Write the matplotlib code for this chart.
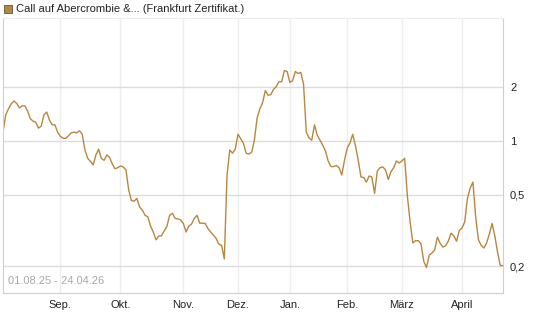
import numpy as np
import pandas as pd
import matplotlib
matplotlib.use("Agg")
import matplotlib.pyplot as plt
from matplotlib.ticker import FixedLocator, NullLocator

# Handelstage Frankfurt 01.08.25 - 24.04.26
feiertage = ["2025-12-24", "2025-12-25", "2025-12-26", "2025-12-31",
             "2026-01-01", "2026-04-03", "2026-04-06"]
tage = pd.bdate_range("2025-08-01", "2026-04-24")
tage = tage[~tage.isin(pd.to_datetime(feiertage))]

kurs = [1.12, 1.40, 1.51, 1.61, 1.67, 1.62, 1.53, 1.57, 1.57, 1.47,
        1.33, 1.29, 1.27, 1.18, 1.21, 1.40, 1.45, 1.31, 1.23, 1.23,
        1.12, 1.06, 1.035, 1.035, 1.07, 1.11, 1.12, 1.11, 1.14, 1.09,
        0.89, 0.80, 0.77, 0.735, 0.836, 0.90, 0.80, 0.78, 0.836, 0.81,
        0.745, 0.70, 0.71, 0.725, 0.716, 0.69, 0.533, 0.465, 0.462, 0.478,
        0.428, 0.412, 0.385, 0.378, 0.335, 0.311, 0.281, 0.295, 0.296, 0.315,
        0.335, 0.385, 0.395, 0.37, 0.368, 0.363, 0.347, 0.311, 0.335, 0.344,
        0.37, 0.385, 0.348, 0.348, 0.347, 0.325, 0.311, 0.299, 0.286, 0.266,
        0.262, 0.22, 0.646, 0.89, 0.855, 0.90, 1.09, 1.03, 0.97, 0.855,
        0.845, 0.865, 1.01, 1.34, 1.51, 1.63, 1.91, 1.80, 1.81, 1.94,
        2.01, 2.14, 2.14, 2.47, 2.44, 2.12, 2.17, 2.44, 2.38, 2.41,
        2.07, 1.12, 1.04, 1.01, 1.23, 1.08, 1.01, 0.95, 0.88, 0.774,
        0.72, 0.72, 0.73, 0.71, 0.646, 0.784, 0.914, 0.975, 1.09, 0.94,
        0.784, 0.63, 0.626, 0.59, 0.638, 0.63, 0.51, 0.68, 0.71, 0.716,
        0.69, 0.61, 0.674, 0.71, 0.774, 0.754, 0.774, 0.80, 0.494, 0.354,
        0.27, 0.278, 0.278, 0.267, 0.213, 0.197, 0.231, 0.237, 0.247, 0.291,
        0.269, 0.256, 0.261, 0.277, 0.306, 0.296, 0.276, 0.317, 0.327, 0.354,
        0.48, 0.547, 0.59, 0.377, 0.281, 0.262, 0.253, 0.27, 0.303, 0.347,
        0.296, 0.24, 0.202, 0.202]

monate = ["Sep.", "Okt.", "Nov.", "Dez.", "Jan.", "Feb.", "März", "April"]
y_ticks = [0.2, 0.5, 1, 2]
y_labels = ["0,2", "0,5", "1", "2"]

plt.rcParams['font.family'] = ['Liberation Sans', 'DejaVu Sans']

fig = plt.figure(figsize=(5.45, 3.27), dpi=100)
ax = fig.add_axes([3/545, 34/327, 500/545, 275/327])

x = np.arange(len(tage))
ax.plot(x, kurs, color="#b8873e", lw=1.0)

ax.set_yscale("log")
ax.set_ylim(0.142, 4.85)
ax.set_xlim(0, len(tage) - 1)

# erster Handelstag je Monat
s = pd.Series(x, index=tage)
erste = s.groupby([tage.year, tage.month]).first().values[1:]
ax.xaxis.set_major_locator(FixedLocator(erste))
ax.set_xticklabels(monate)
ax.yaxis.set_major_locator(FixedLocator(y_ticks))
ax.yaxis.set_minor_locator(NullLocator())
ax.set_yticklabels(y_labels)
ax.yaxis.tick_right()

ax.tick_params(axis="both", length=0, labelsize=8, colors="#222222")
ax.tick_params(axis="x", pad=5)
ax.tick_params(axis="y", pad=5)

ax.grid(axis="y", color="#dcdcdc", lw=1)
ax.grid(axis="x", color="#eeeeee", lw=1)
ax.set_axisbelow(True)
for side in ["left", "bottom", "right"]:
    ax.spines[side].set_color("#cfcfcf")
ax.spines["top"].set_color("#eeeeee")

ax.text(0.01, 0.025, "01.08.25 - 24.04.26", transform=ax.transAxes,
        fontsize=8, color="#a8a8a8", ha="left", va="bottom")

fig.patches.append(plt.Rectangle((4/545, 1 - 13/327), 8/545, 8/327,
                                 transform=fig.transFigure, facecolor="#b8873e",
                                 edgecolor="#555555", lw=0.6))
fig.text(16/545, 1 - 9/327, "Call auf Abercrombie &... (Frankfurt Zertifikat.)",
         fontsize=8, color="#222222", va="center", ha="left")

fig.savefig("out.png", dpi=100)
